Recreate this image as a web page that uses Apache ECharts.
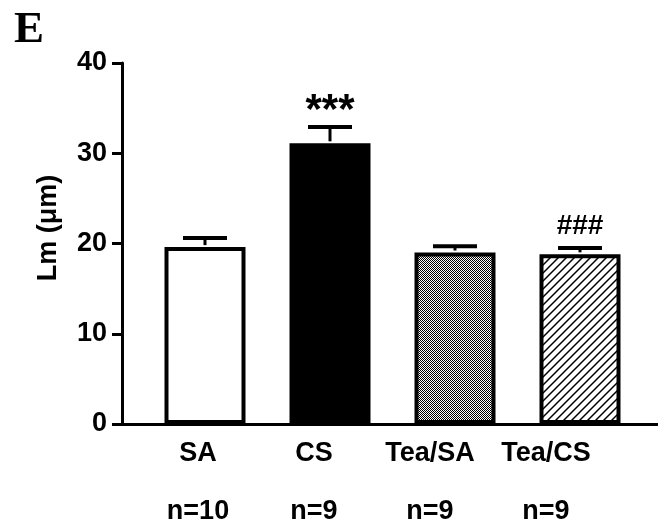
<!DOCTYPE html>
<html>
<head>
<meta charset="utf-8">
<script src="https://cdn.jsdelivr.net/npm/echarts@6/dist/echarts.min.js"></script>
<style>
  html, body { margin: 0; padding: 0; background: #fff; }
  #chart { width: 658px; height: 529px; }
</style>
</head>
<body>
<div id="chart"></div>
<script>
const categories = ['SA', 'CS', 'Tea/SA', 'Tea/CS']
const nLabels = ['n=10', 'n=9', 'n=9', 'n=9']
const means = [19.6, 31.1, 19.0, 18.8]
const sems = [1.0, 1.8, 0.7, 0.7]
const marks = ['', '***', '', '###']
const yMin = 0
const yMax = 40
const yStep = 10

const FONT = '"Liberation Sans", Arial, sans-serif'

// fine checkerboard fill (Tea/SA)
function checkerPattern() {
  const c = document.createElement('canvas')
  c.width = 2
  c.height = 2
  const ctx = c.getContext('2d')
  ctx.fillStyle = '#fff'
  ctx.fillRect(0, 0, 2, 2)
  ctx.fillStyle = '#000'
  ctx.fillRect(0, 0, 1, 1)
  ctx.fillRect(1, 1, 1, 1)
  return c
}

// diagonal hatch fill (Tea/CS)
function hatchPattern() {
  const s = 8
  const c = document.createElement('canvas')
  c.width = s
  c.height = s
  const ctx = c.getContext('2d')
  ctx.fillStyle = '#fff'
  ctx.fillRect(0, 0, s, s)
  ctx.strokeStyle = '#000'
  ctx.lineWidth = 1.5
  ctx.beginPath()
  ctx.moveTo(0, s); ctx.lineTo(s, 0)
  ctx.moveTo(-2, 2); ctx.lineTo(2, -2)
  ctx.moveTo(s - 2, s + 2); ctx.lineTo(s + 2, s - 2)
  ctx.stroke()
  return c
}

const fills = [
  '#ffffff',
  '#000000',
  { image: checkerPattern(), repeat: 'repeat' },
  { image: hatchPattern(), repeat: 'repeat' }
]

const chart = echarts.init(document.getElementById('chart'))

const option = {
  animation: false,
  backgroundColor: '#fff',
  title: {
    text: 'E',
    left: 9,
    top: 3,
    textStyle: { fontFamily: '"Liberation Serif", "Times New Roman", serif', fontWeight: 'bold', fontSize: 45, color: '#000' }
  },
  graphic: [
    {
      type: 'text',
      x: 49,
      y: 228,
      rotation: Math.PI / 2,
      style: {
        text: 'Lm (μm)',
        fontFamily: FONT,
        fontWeight: 'bold',
        fontSize: 27,
        fill: '#000',
        align: 'center',
        verticalAlign: 'middle'
      }
    }
  ],
  grid: [
    { left: 142.5, right: 15.5, top: 63, bottom: 105 },   // bars
    { left: 122, right: 0, top: 63, bottom: 105 },        // axis lines
    { left: 140, width: 464, top: 63, bottom: 105 }       // category labels
  ],
  xAxis: [
    {
      type: 'category', gridIndex: 0, data: categories,
      axisLine: { show: false }, axisTick: { show: false }, axisLabel: { show: false }
    },
    {
      type: 'value', gridIndex: 1, min: 0, max: 1,
      axisLine: { show: true, lineStyle: { color: '#000', width: 3 } },
      axisTick: { show: false }, axisLabel: { show: false }, splitLine: { show: false }
    },
    {
      type: 'category', gridIndex: 2, data: categories,
      axisLine: { show: false }, axisTick: { show: false },
      axisLabel: {
        margin: 1,
        interval: 0,
        formatter: (v, i) => '{c|' + v + '}\n{n|' + nLabels[i] + '}',
        rich: {
          c: { fontFamily: FONT, fontWeight: 'bold', fontSize: 27, color: '#000', lineHeight: 58 },
          n: { fontFamily: FONT, fontWeight: 'bold', fontSize: 27, color: '#000', lineHeight: 58 }
        }
      }
    }
  ],
  yAxis: [
    { type: 'value', gridIndex: 0, min: yMin, max: yMax, show: false },
    {
      type: 'value', gridIndex: 1, min: yMin, max: yMax, interval: yStep,
      axisLine: { show: true, lineStyle: { color: '#000', width: 3 } },
      axisTick: { show: true, length: 10, lineStyle: { color: '#000', width: 3 } },
      axisLabel: { margin: 15, fontFamily: FONT, fontWeight: 'bold', fontSize: 27, color: '#000' },
      splitLine: { show: false }
    },
    { type: 'value', gridIndex: 2, min: yMin, max: yMax, show: false }
  ],
  series: [
    {
      type: 'bar',
      xAxisIndex: 0,
      yAxisIndex: 0,
      barWidth: 81,
      data: means.map((v, i) => ({
        value: v,
        itemStyle: { color: fills[i], borderColor: '#000', borderWidth: 4 }
      })),
      z: 3
    },
    {
      type: 'custom',
      xAxisIndex: 0,
      yAxisIndex: 0,
      data: means.map((m, i) => [i, m, sems[i]]),
      encode: { x: 0, y: 1 },
      z: 4,
      renderItem: function (params, api) {
        const i = api.value(0)
        const m = api.value(1)
        const e = api.value(2)
        const base = api.coord([i, m])
        const top = api.coord([i, m + e])
        const half = 22
        const children = [
          {
            type: 'line',
            shape: { x1: base[0], y1: base[1] - 2, x2: top[0], y2: top[1] },
            style: { stroke: '#000', lineWidth: 3 }
          },
          {
            type: 'line',
            shape: { x1: top[0] - half, y1: top[1], x2: top[0] + half, y2: top[1] },
            style: { stroke: '#000', lineWidth: 4 }
          }
        ]
        if (marks[i]) {
          const star = marks[i].charAt(0) === '*'
          children.push({
            type: 'text',
            x: top[0],
            y: top[1] + (star ? 5 : -8),
            style: {
              text: marks[i],
              fontFamily: FONT,
              fontWeight: 'bold',
              fontSize: star ? 42 : 28,
              fill: '#000',
              align: 'center',
              verticalAlign: 'bottom'
            }
          })
        }
        return { type: 'group', children: children }
      }
    }
  ]
}

chart.setOption(option)
</script>
</body>
</html>
